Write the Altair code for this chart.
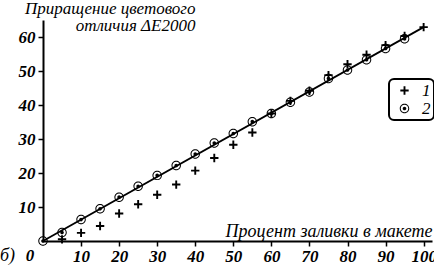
import altair as alt
import pandas as pd

# series 1 (crosses)
x_cross = [5, 10, 15, 20, 25, 30, 35, 40, 45, 50, 55, 60, 65, 70, 75, 80, 85, 90, 95, 100]
y_cross = [0.5, 2.4, 4.4, 8.1, 10.8, 13.6, 16.6, 20.7, 24.4, 28.3, 31.9, 37.5, 41.2, 44.2,
           48.8, 52.0, 54.8, 57.6, 60.3, 62.9]
# series 2 (circles with dot)
x_circ = [0, 5, 10, 15, 20, 25, 30, 35, 40, 45, 50, 55, 60, 65, 70, 75, 80, 85, 90, 95]
y_circ = [0.0, 2.5, 6.3, 9.5, 12.9, 16.1, 19.3, 22.2, 25.6, 28.8, 31.6, 35.1, 37.5, 40.8,
          43.8, 47.8, 50.3, 53.3, 56.6, 59.5]
# fitted line
line_x = [0, 100]
line_y = [0, 62.9]

series_names = ["1", "2"]
x_ticks = [10, 20, 30, 40, 50, 60, 70, 80, 90, 100]
y_ticks = [10, 20, 30, 40, 50, 60]
y_title = ["Приращение цветового", "отличия ΔE2000"]
x_title = "Процент заливки в макете"
panel_label = "б)"
origin_label = "0"

CROSS = "M-0.88,-0.2H-0.2V-0.88H0.2V-0.2H0.88V0.2H0.2V0.88H-0.2V0.2H-0.88Z"
CIRCDOT = ("M-1,0A1,1 0 1,1 1,0A1,1 0 1,1 -1,0Z"
           "M-0.79,0A0.79,0.79 0 1,0 0.79,0A0.79,0.79 0 1,0 -0.79,0Z"
           "M-0.38,0A0.38,0.38 0 1,1 0.38,0A0.38,0.38 0 1,1 -0.38,0Z")

pts = pd.concat([
    pd.DataFrame({"x": x_cross, "y": y_cross, "s": series_names[0]}),
    pd.DataFrame({"x": x_circ, "y": y_circ, "s": series_names[1]}),
])
line_df = pd.DataFrame({"x": line_x, "y": line_y})

FONT = "Liberation Serif"

xs = alt.Scale(domain=[0, 102.2], nice=False, zero=False)
ys = alt.Scale(domain=[0, 65], nice=False, zero=False)

xax = alt.Axis(values=x_ticks, title=x_title, titleX=389, titleY=-5, titleAlign="right",
               titleBaseline="alphabetic", titleAnchor="end", titleFontSize=18,
               labelPadding=2)
yax = alt.Axis(values=y_ticks, title=y_title, titleAngle=0, titleX=152, titleY=-20,
               titleAlign="right", titleBaseline="top", titleLineHeight=17,
               titleFontSize=17, labelPadding=3)

line = alt.Chart(line_df).mark_line(color="black", strokeWidth=1.8).encode(
    x=alt.X("x:Q", scale=xs, axis=xax),
    y=alt.Y("y:Q", scale=ys, axis=yax),
)

points = alt.Chart(pts).mark_point(filled=True, color="black", opacity=1, size=90,
                                   strokeWidth=0).encode(
    x=alt.X("x:Q", scale=xs, axis=xax),
    y=alt.Y("y:Q", scale=ys, axis=yax),
    shape=alt.Shape("s:N", scale=alt.Scale(domain=series_names, range=[CROSS, CIRCDOT]),
                    legend=alt.Legend(title=None, orient="none", legendX=346, legendY=59,
                                      labelExpr="datum.label + '\u00a0'")),
)

zero_df = pd.DataFrame({"t": [origin_label]})
zero = alt.Chart(zero_df).mark_text(font=FONT, fontStyle="italic", fontWeight="bold",
                                    fontSize=17, align="center", baseline="alphabetic",
                                    color="black").encode(
    x=alt.value(-13), y=alt.value(241), text="t:N")

lab_df = pd.DataFrame({"t": [panel_label]})
lab = alt.Chart(lab_df).mark_text(font=FONT, fontStyle="italic", fontSize=18,
                                  align="left", baseline="alphabetic").encode(
    x=alt.value(-43), y=alt.value(241), text="t:N")

chart = alt.layer(line, points, zero, lab).properties(
    width=389, height=221,
    autosize=alt.AutoSizeParams(type="none"),
    padding={"left": 43, "top": 20, "right": 2, "bottom": 24},
).configure_view(stroke=None).configure_axis(
    grid=False,
    domainColor="black", domainWidth=2,
    tickColor="black", tickWidth=1.5, tickSize=5,
    labelFont=FONT, labelFontStyle="italic", labelFontWeight="bold", labelFontSize=17,
    labelColor="black",
    titleFont=FONT, titleFontStyle="italic", titleFontWeight="normal",
    titleColor="black",
).configure_legend(
    padding=3, strokeColor="black", strokeWidth=2, cornerRadius=5,
    labelFont=FONT, labelFontStyle="italic", labelFontSize=17, labelColor="black",
    symbolSize=90, symbolFillColor="black", symbolStrokeWidth=0, symbolOpacity=1,
    symbolOffset=4, rowPadding=0, labelOffset=9,
)

chart.save("out.html", embed_options={"renderer": "svg", "actions": False})
